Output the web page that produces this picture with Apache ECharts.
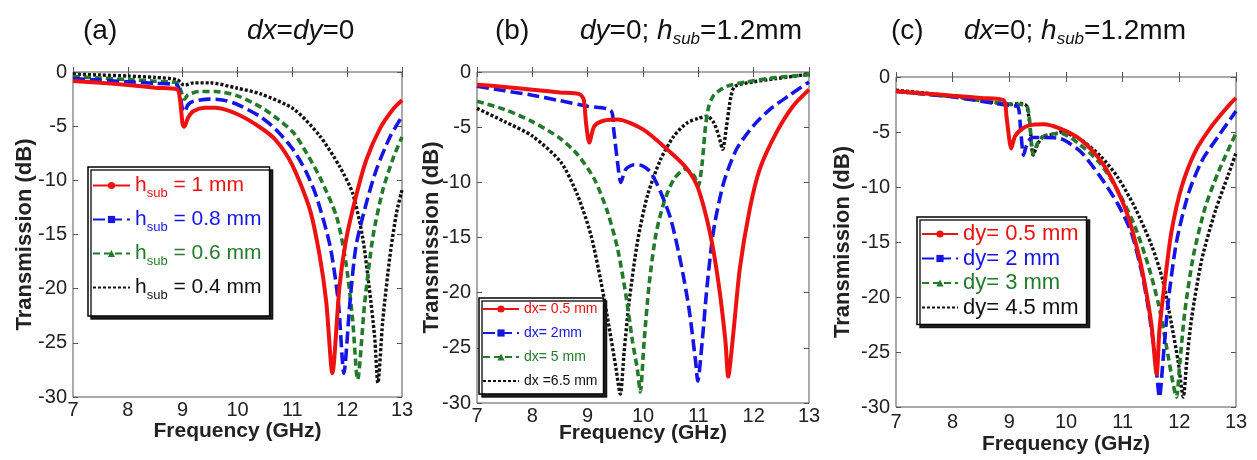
<!DOCTYPE html>
<html><head><meta charset="utf-8">
<script src="https://cdn.jsdelivr.net/npm/echarts@6/dist/echarts.min.js"></script>
<style>html,body{margin:0;padding:0;background:#fff}#c{width:1257px;height:460px}</style>
</head><body><div id="c"></div>
<script>
// ---- data: [frequency GHz, transmission dB] ----
const xTicks = [7, 8, 9, 10, 11, 12, 13];
const yTicks = [0, -5, -10, -15, -20, -25, -30];

// (a) dx=dy=0, varying h_sub
const aNames = ['h_sub = 1 mm', 'h_sub = 0.8 mm', 'h_sub = 0.6 mm', 'h_sub = 0.4 mm'];
const aRed = [[7,-0.83],[7.5,-1.0],[8,-1.2],[8.5,-1.45],[8.9,-1.6],[8.95,-2.5],[9.0,-4.85],[9.03,-5.06],[9.1,-4.2],[9.2,-3.6],[9.4,-3.3],[9.6,-3.3],[10.0,-3.9],[10.41,-5.1],[10.7,-6.3],[11.0,-8.6],[11.32,-12.7],[11.5,-17.0],[11.62,-21.3],[11.73,-27.8],[11.86,-19.8],[11.98,-15.5],[12.16,-11.5],[12.35,-8.1],[12.6,-5.2],[12.85,-3.35],[13,-2.6]];
const aBlue = [[7,-0.6],[7.5,-0.75],[8,-0.9],[8.5,-1.05],[8.9,-1.2],[8.95,-2.1],[9.0,-3.5],[9.03,-3.7],[9.1,-3.0],[9.2,-2.7],[9.5,-2.5],[9.75,-2.6],[10.0,-3.0],[10.41,-4.1],[10.7,-5.3],[11.02,-7.2],[11.25,-9.2],[11.44,-11.5],[11.69,-16.1],[11.84,-21.3],[11.94,-27.8],[12.05,-21.3],[12.16,-16.1],[12.35,-12.1],[12.53,-9.05],[12.78,-6.0],[13,-4.1]];
const aGreen = [[7,-0.43],[7.5,-0.55],[8,-0.7],[8.5,-0.85],[8.9,-1.0],[8.95,-1.5],[9.0,-2.2],[9.03,-2.5],[9.1,-2.1],[9.3,-1.8],[9.6,-1.8],[10.0,-2.2],[10.41,-3.2],[10.7,-4.2],[11.02,-5.6],[11.25,-7.4],[11.5,-9.7],[11.81,-13.4],[11.98,-17.7],[12.1,-22.9],[12.19,-28.4],[12.32,-21.3],[12.47,-15.2],[12.65,-10.9],[12.85,-7.8],[13,-6.0]];
const aBlack = [[7,-0.2],[7.5,-0.28],[8,-0.37],[8.5,-0.5],[8.9,-0.7],[9.0,-1.15],[9.05,-1.2],[9.2,-1.0],[9.5,-1.0],[10.0,-1.5],[10.41,-2.0],[11.02,-3.4],[11.5,-5.9],[11.86,-8.7],[12.1,-11.2],[12.28,-15.2],[12.4,-19.8],[12.5,-24.4],[12.56,-28.7],[12.65,-22.9],[12.78,-17.0],[12.9,-13.0],[13,-10.9]];

// (b) dy=0, h_sub=1.2mm, varying dx
const bNames = ['dx= 0.5 mm', 'dx= 2mm', 'dx= 5 mm', 'dx =6.5 mm'];
const bRed = [[7,-1.15],[7.5,-1.35],[8,-1.6],[8.5,-1.86],[8.85,-2.0],[8.93,-2.5],[8.97,-4.6],[9.03,-6.4],[9.12,-4.9],[9.3,-4.4],[9.54,-4.3],[10.0,-5.2],[10.5,-7.3],[10.8,-8.8],[11.0,-10.6],[11.22,-14.8],[11.37,-19.3],[11.49,-24.4],[11.54,-27.6],[11.63,-23.8],[11.75,-17.8],[11.93,-12.4],[12.11,-8.8],[12.41,-5.5],[12.71,-3.1],[13,-1.6]];
const bBlue = [[7,-1.3],[7.5,-1.7],[8,-2.1],[8.5,-2.6],[9.0,-3.1],[9.42,-3.5],[9.47,-5.2],[9.54,-8.2],[9.6,-10.0],[9.69,-8.8],[9.84,-8.4],[9.99,-8.5],[10.14,-9.1],[10.32,-10.9],[10.5,-13.3],[10.68,-17.2],[10.83,-21.4],[10.95,-26.2],[10.99,-28.0],[11.07,-24.4],[11.16,-19.3],[11.28,-14.2],[11.46,-10.0],[11.69,-7.0],[11.99,-4.9],[12.29,-3.4],[12.65,-2.1],[13,-0.9]];
const bGreen = [[7,-2.65],[7.5,-3.4],[8,-4.5],[8.5,-6.0],[8.82,-7.5],[9.12,-9.7],[9.36,-12.7],[9.54,-16.0],[9.69,-20.2],[9.81,-24.4],[9.9,-27.0],[9.95,-29.0],[10.02,-24.4],[10.11,-19.3],[10.23,-14.8],[10.38,-11.8],[10.56,-9.7],[10.77,-8.8],[10.92,-9.4],[11.0,-10.3],[11.07,-8.2],[11.13,-4.9],[11.19,-3.1],[11.28,-2.1],[11.51,-1.3],[11.87,-0.9],[12.41,-0.5],[13,-0.25]];
const bBlack = [[7,-3.3],[7.5,-4.5],[8,-5.8],[8.52,-8.2],[8.82,-11.2],[9.06,-14.8],[9.24,-19.0],[9.39,-23.2],[9.51,-26.8],[9.59,-29.2],[9.66,-25.3],[9.75,-20.8],[9.9,-15.4],[10.08,-11.2],[10.32,-7.9],[10.56,-5.8],[10.8,-4.6],[11.0,-4.2],[11.16,-4.0],[11.28,-4.6],[11.37,-5.8],[11.44,-7.0],[11.51,-4.9],[11.59,-2.2],[11.66,-1.3],[11.99,-0.9],[12.41,-0.6],[13,-0.2]];

// (c) dx=0, h_sub=1.2mm, varying dy
const cNames = ['dy= 0.5 mm', 'dy= 2 mm', 'dy= 3 mm', 'dy= 4.5 mm'];
const cRed = [[7,-1.3],[7.5,-1.5],[8,-1.7],[8.5,-1.9],[8.9,-2.1],[8.95,-3.6],[9.0,-5.7],[9.03,-6.5],[9.1,-5.4],[9.2,-4.8],[9.35,-4.4],[9.6,-4.3],[9.9,-4.7],[10.26,-5.7],[10.61,-7.6],[10.85,-9.7],[11.09,-12.6],[11.27,-15.9],[11.39,-18.8],[11.51,-22.6],[11.6,-27.0],[11.65,-22.9],[11.74,-18.8],[11.86,-14.1],[12.04,-10.0],[12.28,-6.8],[12.58,-4.4],[12.87,-2.6],[13,-1.9]];
const cBlue = [[7,-1.3],[7.5,-1.55],[8,-1.8],[8.5,-2.2],[9.0,-2.6],[9.15,-2.7],[9.2,-4.8],[9.25,-7.1],[9.3,-6.3],[9.4,-5.5],[9.6,-5.5],[9.9,-5.6],[10.26,-6.8],[10.61,-9.1],[10.91,-11.5],[11.15,-14.1],[11.33,-17.6],[11.45,-20.9],[11.57,-25.3],[11.65,-29.1],[11.71,-25.9],[11.8,-20.6],[11.95,-15.0],[12.16,-10.6],[12.4,-7.6],[12.7,-5.3],[13,-3.1]];
const cGreen = [[7,-1.3],[7.5,-1.55],[8,-1.8],[8.5,-2.15],[9.0,-2.45],[9.3,-2.6],[9.35,-3.6],[9.42,-7.0],[9.5,-6.0],[9.6,-5.4],[9.9,-5.1],[10.26,-6.2],[10.61,-7.9],[10.91,-10.3],[11.21,-13.5],[11.45,-17.1],[11.63,-20.6],[11.77,-24.4],[11.89,-27.9],[11.95,-29.1],[12.01,-25.9],[12.1,-21.2],[12.25,-16.2],[12.46,-11.8],[12.7,-8.5],[13,-5.1]];
const cBlack = [[7,-1.2],[7.5,-1.45],[8,-1.75],[8.5,-2.1],[9.0,-2.5],[9.2,-2.4],[9.3,-2.6],[9.36,-4.2],[9.42,-7.1],[9.5,-6.1],[9.6,-5.4],[9.8,-5.2],[9.9,-5.0],[10.26,-5.7],[10.61,-7.2],[10.91,-9.1],[11.21,-11.8],[11.51,-15.3],[11.71,-18.5],[11.86,-22.4],[11.98,-25.9],[12.07,-29.1],[12.13,-25.9],[12.22,-21.8],[12.4,-16.5],[12.64,-12.1],[12.87,-8.8],[13,-6.9]];

// ---- styling ----
const COLORS = ['#ee1111', '#1515e6', '#237a2a', '#111111'];
const DASH = ['solid', [12, 5], [7, 4], [3, 2]];
const WIDTHS = [4, 3.6, 3.6, 3.4];
const SYMS = ['circle', 'rect', 'triangle', 'path://M0,0L10,10M10,0L0,10'];
const FONT = 'Liberation Sans, Arial, sans-serif';

const grids = [
  {left: 73, top: 72, width: 329, height: 325},
  {left: 477, top: 72, width: 332, height: 331},
  {left: 896, top: 77, width: 340, height: 337}
];
const yNameGap = [37, 34, 42];
const xNameGap = [24, 20, 27];
const xLabelMargin = [3, 3, 5];

const xAxes = [], yAxes = [];
grids.forEach((g, i) => {
  xAxes.push({type: 'value', gridIndex: i, min: xTicks[0], max: xTicks[xTicks.length - 1], interval: 1,
    axisLine: {show: false}, splitLine: {show: false},
    axisTick: {show: true, inside: true, length: 5, lineStyle: {color: '#555'}},
    axisLabel: {fontFamily: FONT, fontSize: 20, color: '#222', margin: xLabelMargin[i]},
    name: 'Frequency (GHz)', nameLocation: 'middle', nameGap: xNameGap[i], nameMoveOverlap: false,
    nameTextStyle: {fontFamily: FONT, fontSize: 21, fontWeight: 'bold', color: '#222'}});
  yAxes.push({type: 'value', gridIndex: i, min: yTicks[yTicks.length - 1], max: yTicks[0], interval: 5,
    axisLine: {show: false}, splitLine: {show: false},
    axisTick: {show: true, inside: true, length: 5, lineStyle: {color: '#555'}},
    axisLabel: {fontFamily: FONT, fontSize: 20, color: '#222', margin: 6},
    name: 'Transmission (dB)', nameLocation: 'middle', nameGap: yNameGap[i], nameMoveOverlap: false,
    nameTextStyle: {fontFamily: FONT, fontSize: 22, fontWeight: 'bold', color: '#222'}});
});
grids.forEach((g, i) => {
  xAxes.push({type: 'value', gridIndex: i, position: 'top', min: 7, max: 13, interval: 1,
    axisLine: {show: false}, splitLine: {show: false}, axisLabel: {show: false},
    axisTick: {show: true, inside: true, length: 5, lineStyle: {color: '#555'}}});
  yAxes.push({type: 'value', gridIndex: i, position: 'right', min: -30, max: 0, interval: 5,
    axisLine: {show: false}, splitLine: {show: false}, axisLabel: {show: false},
    axisTick: {show: true, inside: true, length: 5, lineStyle: {color: '#555'}}});
});

const panels = [
  {names: aNames, data: [aRed, aBlue, aGreen, aBlack]},
  {names: bNames, data: [bRed, bBlue, bGreen, bBlack]},
  {names: cNames, data: [cRed, cBlue, cGreen, cBlack]}
];
const series = [];
panels.forEach((p, gi) => {
  p.data.forEach((d, k) => {
    series.push({type: 'line', name: p.names[k], xAxisIndex: gi, yAxisIndex: gi, data: d,
      showSymbol: false, symbol: SYMS[k], smooth: 0.25, silent: true, animation: false,
      color: COLORS[k], itemStyle: {color: COLORS[k]},
      lineStyle: {color: COLORS[k], width: WIDTHS[k], type: DASH[k]}, z: 10 - k});
  });
});

const richKeys = ['r', 'b', 'g', 'k'];
function subRich(fs, sfs, pad) {
  const rich = {};
  COLORS.forEach((c, k) => {
    rich[richKeys[k]] = {color: c, fontSize: fs, fontFamily: FONT, lineHeight: fs + 8};
    rich[richKeys[k] + 's'] = {color: c, fontSize: sfs, fontFamily: FONT, lineHeight: sfs + 1, padding: [pad, 0, 0, 0]};
  });
  return rich;
}
function colorRich(fs, lh) {
  const rich = {};
  COLORS.forEach((c, k) => { rich[richKeys[k]] = {color: c, fontSize: fs, fontFamily: FONT, lineHeight: lh}; });
  return rich;
}
const legendBase = {orient: 'vertical', backgroundColor: '#fff', borderColor: '#000', borderWidth: 1.5,
  shadowColor: 'rgba(0,0,0,0.85)', shadowBlur: 0, shadowOffsetX: 3, shadowOffsetY: 3,
  selectedMode: false, itemWidth: 37, itemHeight: 9};

const legends = [
  Object.assign({}, legendBase, {left: 88, top: 167, padding: [4, 8, 14, 4], itemGap: 5,
    data: aNames, textStyle: {rich: subRich(21, 13, 16)},
    formatter: n => { const k = aNames.indexOf(n); const key = richKeys[k];
      return '{' + key + '|h}{' + key + 's|sub}{' + key + '|' + n.replace('h_sub', '') + '}'; }}),
  Object.assign({}, legendBase, {left: 479, top: 298, padding: [4, 6, 6, 3], itemGap: 10, itemWidth: 36,
    data: bNames, textStyle: {rich: colorRich(14, 18)},
    formatter: n => '{' + richKeys[bNames.indexOf(n)] + '|' + n + '}'}),
  Object.assign({}, legendBase, {left: 917, top: 217, padding: [6, 8, 6, 4], itemGap: 2.5, itemWidth: 36,
    data: cNames, textStyle: {rich: colorRich(22, 22)},
    formatter: n => '{' + richKeys[cNames.indexOf(n)] + '|' + n + '}'})
];

const tRich = {
  n: {fontFamily: FONT, fontSize: 28, color: '#111', lineHeight: 34},
  i: {fontFamily: FONT, fontSize: 28, color: '#111', fontStyle: 'italic', lineHeight: 34},
  s: {fontFamily: FONT, fontSize: 17, color: '#111', fontStyle: 'italic', lineHeight: 17, padding: [16, 0, 0, 0]}
};
const titles = [
  {text: '{n|(a)}', left: 83, top: 14},
  {text: '{i|dx}{n|=}{i|dy}{n|=0}', left: 247, top: 14},
  {text: '{n|(b)}', left: 495, top: 14},
  {text: '{i|dy}{n|=0; }{i|h}{s|sub}{n|=1.2mm}', left: 580, top: 14},
  {text: '{n|(c)}', left: 891, top: 14},
  {text: '{i|dx}{n|=0; }{i|h}{s|sub}{n|=1.2mm}', left: 964, top: 14}
].map(t => Object.assign(t, {padding: 0, textStyle: {fontFamily: FONT, fontSize: 28, fontWeight: 'normal', color: '#111', rich: tRich}}));

const chart = echarts.init(document.getElementById('c'), null, {renderer: 'canvas'});
chart.setOption({
  backgroundColor: '#ffffff',
  animation: false,
  title: titles,
  grid: grids.map(g => Object.assign({show: true, borderColor: '#555', borderWidth: 1, backgroundColor: 'transparent'}, g)),
  xAxis: xAxes,
  yAxis: yAxes,
  legend: legends,
  series: series
});
</script>
</body></html>
